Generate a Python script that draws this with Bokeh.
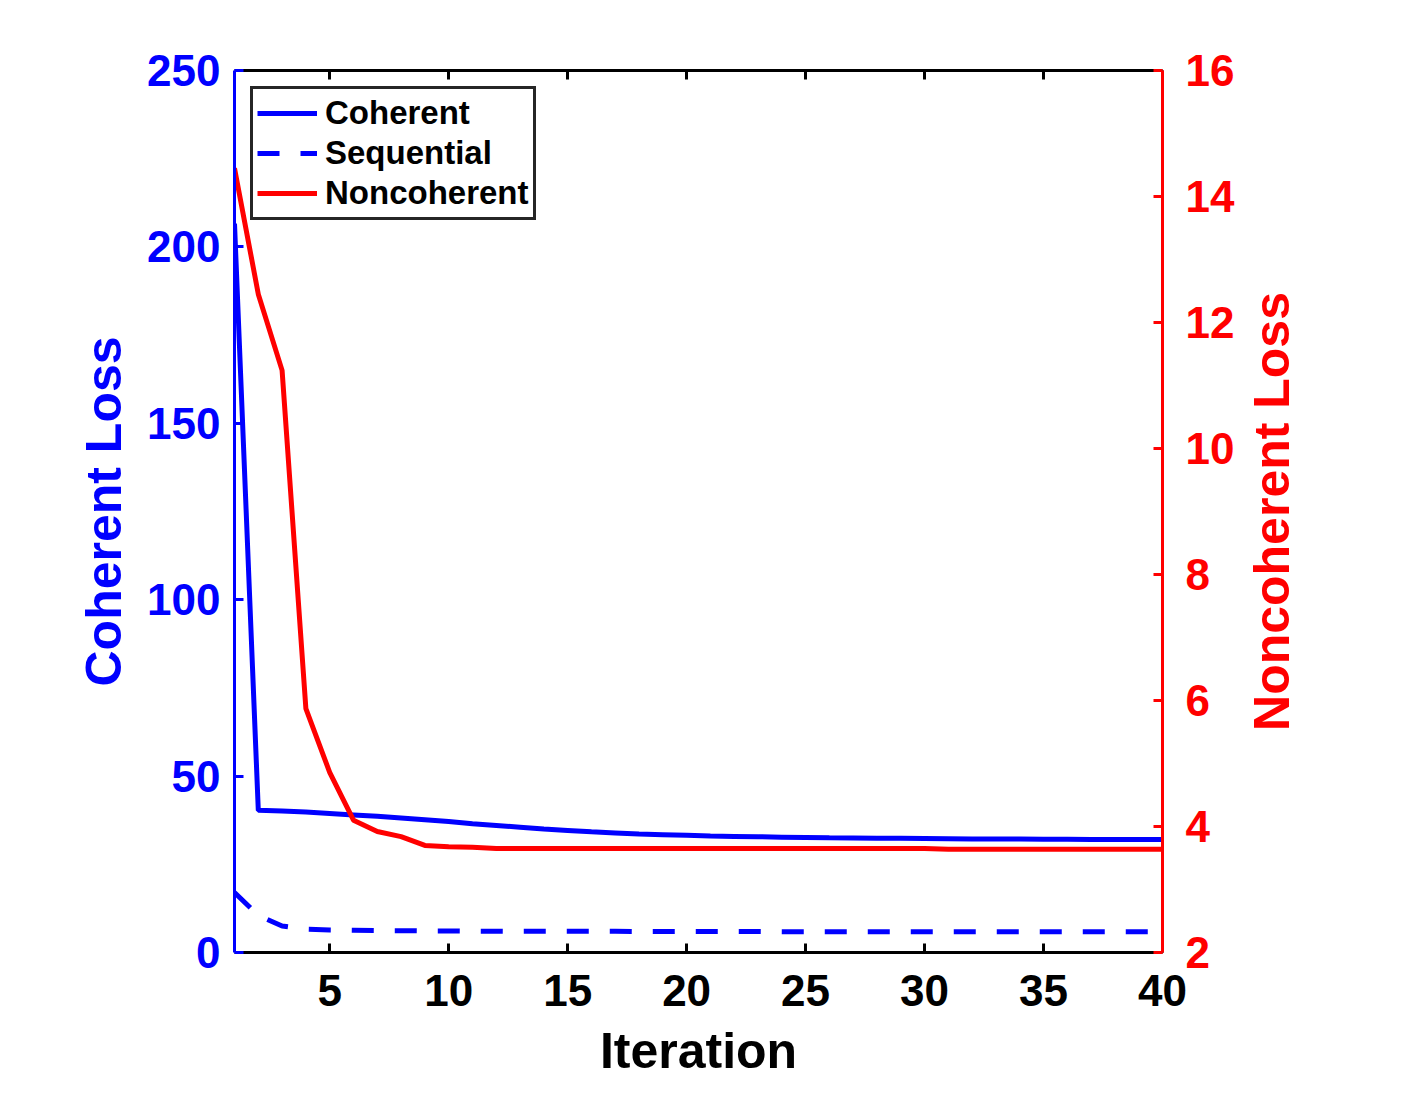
import math
from bokeh.plotting import figure
from bokeh.layouts import row
from bokeh.models import Range1d, LinearAxis, FixedTicker, Legend, LegendItem, Label
from bokeh.embed import file_html
from bokeh.resources import INLINE

iterations = list(range(1, 41))
coherent = [206.6, 40.3, 40.1, 39.8, 39.4, 39.0, 38.6, 38.1, 37.6, 37.1,
            36.5, 36.0, 35.5, 35.0, 34.6, 34.2, 33.9, 33.6, 33.4, 33.2,
            33.0, 32.9, 32.8, 32.7, 32.6, 32.5, 32.45, 32.4, 32.35, 32.3,
            32.25, 32.2, 32.2, 32.15, 32.1, 32.1, 32.05, 32.05, 32.0, 32.0]
sequential = [17.0, 10.5, 7.5, 6.6, 6.4, 6.3, 6.2, 6.2, 6.1, 6.1,
              6.05, 6.05, 6.0, 6.0, 6.0, 6.0, 6.0, 5.95, 5.95, 5.95,
              5.95, 5.95, 5.95, 5.9, 5.9, 5.9, 5.9, 5.9, 5.9, 5.9,
              5.9, 5.9, 5.9, 5.9, 5.9, 5.9, 5.9, 5.9, 5.9, 5.9]
noncoherent = [14.45, 12.45, 11.24, 5.87, 4.86, 4.10, 3.92, 3.84, 3.70, 3.68,
               3.67, 3.65, 3.65, 3.65, 3.65, 3.65, 3.65, 3.65, 3.65, 3.65,
               3.65, 3.65, 3.65, 3.65, 3.65, 3.65, 3.65, 3.65, 3.65, 3.65,
               3.64, 3.64, 3.64, 3.64, 3.64, 3.64, 3.64, 3.64, 3.64, 3.64]
x_ticks = [5, 10, 15, 20, 25, 30, 35, 40]
left_ticks = [0, 50, 100, 150, 200, 250]
right_ticks = [2, 4, 6, 8, 10, 12, 14, 16]
right_title = "Noncoherent Loss"

FONT = "Liberation Sans"
BLUE = "#0000FF"
RED = "#FF0000"

FRAME_W, FRAME_H = 928, 882
BL, BT = 234, 70
BR = 78
W, H = BL + FRAME_W + BR, 1088
p = figure(width=W, height=H, output_backend="svg", toolbar_location=None,
           x_range=Range1d(1, 40), y_range=Range1d(0, 250),
           x_axis_location=None, y_axis_location=None,
           min_border_left=BL, min_border_right=BR,
           min_border_top=BT, min_border_bottom=H - BT - FRAME_H)
p.extra_y_ranges = {"r": Range1d(2, 16)}
p.grid.visible = False
p.outline_line_color = None
p.background_fill_color = "white"
p.border_fill_color = "white"


def style(ax, color, ticks, label_size="44px"):
    ax.ticker = FixedTicker(ticks=ticks)
    ax.axis_line_color = color
    ax.axis_line_width = 3
    ax.major_tick_line_color = color
    ax.major_tick_line_width = 3
    ax.major_tick_in = 9
    ax.major_tick_out = 0
    ax.minor_tick_line_color = None
    ax.major_label_text_color = color
    ax.major_label_text_font = FONT
    ax.major_label_text_font_style = "bold"
    ax.major_label_text_font_size = label_size
    ax.axis_label_text_color = color
    ax.axis_label_text_font = FONT
    ax.axis_label_text_font_style = "bold"
    ax.axis_label_text_font_size = "50px"


bottom = LinearAxis(axis_label="Iteration")
style(bottom, "black", x_ticks)
bottom.major_label_standoff = 22
bottom.axis_label_standoff = 14
p.add_layout(bottom, "below")

top = LinearAxis()
style(top, "black", x_ticks, label_size="0px")
top.major_label_standoff = 0
p.add_layout(top, "above")

left = LinearAxis(axis_label="Coherent Loss")
style(left, BLUE, left_ticks)
left.major_label_standoff = 14
left.axis_label_standoff = 12
p.add_layout(left, "left")

right = LinearAxis(y_range_name="r")
style(right, RED, right_ticks)
right.major_label_standoff = 23
p.add_layout(right, "right")

r1 = p.line(iterations, coherent, line_color=BLUE, line_width=5)
r2 = p.line(iterations, sequential, line_color=BLUE, line_width=5, line_dash="22 21")
r3 = p.line(iterations, noncoherent, line_color=RED, line_width=5, y_range_name="r")

legend = Legend(items=[LegendItem(label="Coherent", renderers=[r1]),
                       LegendItem(label="Sequential", renderers=[r2]),
                       LegendItem(label="Noncoherent", renderers=[r3])],
                location="top_left")
legend.margin = 16
legend.padding = 4
legend.spacing = 0
legend.glyph_width = 60
legend.glyph_height = 40
legend.label_height = 40
legend.label_standoff = 8
legend.label_text_font = FONT
legend.label_text_font_style = "bold"
legend.label_text_font_size = "33px"
legend.label_text_color = "black"
legend.border_line_color = "#262626"
legend.border_line_alpha = 1.0
legend.border_line_width = 3
legend.background_fill_color = "white"
legend.background_fill_alpha = 1.0
p.add_layout(legend, "center")

# side panel carrying the right-axis title, reading bottom-to-top
TW = 100
q = figure(width=TW, height=H, output_backend="svg", toolbar_location=None,
           x_range=Range1d(0, TW), y_range=Range1d(0, H),
           x_axis_location=None, y_axis_location=None,
           min_border=0, min_border_left=0, min_border_right=0,
           min_border_top=0, min_border_bottom=0)
q.grid.visible = False
q.outline_line_color = None
q.border_fill_color = "white"
q.background_fill_color = "white"
q.add_layout(Label(x=3, y=H - (511 - 8) - 41, text=right_title,
                   angle=math.pi / 2, text_align="center", text_baseline="top",
                   text_color=RED, text_font=FONT, text_font_style="bold",
                   text_font_size="50px"))

layout = row(p, q, spacing=0)
open("out.html", "w").write(file_html(layout, INLINE))
